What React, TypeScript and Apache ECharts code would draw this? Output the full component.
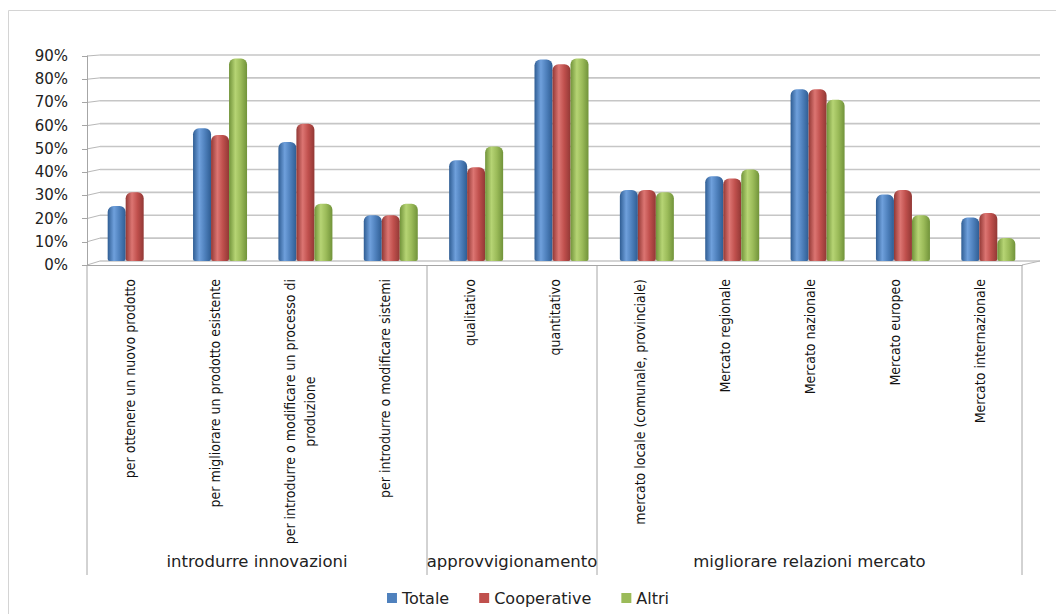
import React, { useEffect, useRef } from 'react';
import * as echarts from 'echarts';

const categories = [
  'per ottenere un nuovo prodotto',
  'per migliorare un prodotto esistente',
  'per introdurre o modificare un processo di\nproduzione',
  'per introdurre o modificare sistemi',
  'qualitativo',
  'quantitativo',
  'mercato locale (comunale, provinciale)',
  'Mercato regionale',
  'Mercato nazionale',
  'Mercato europeo',
  'Mercato internazionale',
];
const groupNames = ['introdurre innovazioni', 'approvvigionamento', 'migliorare relazioni mercato'];
const groupSizes = [4, 2, 5];
const seriesNames = ['Totale', 'Cooperative', 'Altri'];
const totale = [24, 58, 52, 20, 44, 88, 31, 37, 75, 29, 19];
const cooperative = [30, 55, 60, 20, 41, 86, 31, 36, 75, 31, 21];
const altri = [0, 88.5, 25, 25, 50, 88.5, 30, 40, 70.5, 20, 10];
const yTicks = [0, 10, 20, 30, 40, 50, 60, 70, 80, 90];

const baseColors = ['#4F81BD', '#C0504D', '#9BBB59'];
const darkColors = ['#2f5d93', '#923835', '#71933a'];
const lightColors = ['#6fa0dc', '#dc7572', '#b6d474'];

const LABEL_FONT = "'Liberation Sans Narrow', 'DejaVu Sans Condensed', 'Arial Narrow', sans-serif";
const MAIN_FONT = "'DejaVu Sans', Verdana, sans-serif";

function measure(text: string, font: string): number {
  const c = document.createElement('canvas').getContext('2d');
  if (!c) return text.length * 6;
  c.font = font;
  return c.measureText(text).width;
}

export default function App() {
  const ref = useRef<HTMLDivElement>(null);
  useEffect(() => {
    if (!ref.current) return;
    const chart = echarts.init(ref.current, null, { renderer: 'svg' });
    const labelSize = 14;
    const grad = (i: number) =>
      new echarts.graphic.LinearGradient(0, 0, 1, 0, [
        { offset: 0, color: darkColors[i] },
        { offset: 0.35, color: lightColors[i] },
        { offset: 0.65, color: baseColors[i] },
        { offset: 1, color: darkColors[i] },
      ]);
    const data = [totale, cooperative, altri];
    const option: any = {
      animation: false,
      backgroundColor: '#ffffff',
      grid: [
        { left: 92, right: 25, top: 55, bottom: 353, outerBoundsMode: 'none', containLabel: false },
        { left: 87, right: 34, top: 56, bottom: 349, outerBoundsMode: 'none', containLabel: false },
      ],
      legend: {
        top: 585,
        left: 'center',
        icon: 'rect',
        itemWidth: 10,
        itemHeight: 10,
        itemGap: 30,
        textStyle: { fontFamily: MAIN_FONT, fontSize: 16, color: '#222' },
        data: seriesNames.map((n, i) => ({ name: n, itemStyle: { color: baseColors[i] } })),
      },
      xAxis: [
        { type: 'category', gridIndex: 0, data: categories, show: false },
        {
          type: 'category',
          gridIndex: 1,
          data: categories,
          axisLine: { show: true, lineStyle: { color: '#a6a6a6', width: 1 } },
          axisTick: { show: false },
          axisLabel: {
            rotate: 90,
            margin: 14,
            interval: 0,
            fontFamily: LABEL_FONT,
            fontSize: labelSize,
            color: '#111',
            formatter: (v: string) => {
              if (v.indexOf('\n') < 0) return v;
              const [l1, l2] = v.split('\n');
              return `{a|${l1}}\n{b|${l2}}`;
            },
            rich: (() => {
              const w = measure(categories[2].split('\n')[0], `${labelSize}px ${LABEL_FONT}`);
              return {
                a: { fontFamily: LABEL_FONT, fontSize: labelSize, color: '#111', lineHeight: 20 },
                b: { fontFamily: LABEL_FONT, fontSize: labelSize, color: '#111', width: w, align: 'center', lineHeight: 20 },
              };
            })(),
          },
        },
      ],
      yAxis: [
        { type: 'value', gridIndex: 0, min: 0, max: 90, interval: 10, show: false },
        {
          type: 'value',
          gridIndex: 1,
          min: 0,
          max: 90,
          interval: 10,
          axisLine: { show: true, lineStyle: { color: '#a6a6a6', width: 1 } },
          axisTick: { show: true, length: 5, lineStyle: { color: '#a6a6a6' } },
          splitLine: { show: false },
          axisLabel: {
            margin: 19,
            formatter: '{value}%',
            fontFamily: MAIN_FONT,
            fontSize: 15,
            color: '#222',
          },
        },
      ],
      series: seriesNames.map((n, i) => ({
        name: n,
        type: 'bar',
        xAxisIndex: 0,
        yAxisIndex: 0,
        barWidth: 18,
        barGap: '0%',
        z: 5,
        data: data[i],
        itemStyle: { color: grad(i), borderRadius: [6, 6, 2, 2] },
      })),
    };
    chart.setOption(option);

    // decorations (3D walls, gridlines, group separators)
    const g: any[] = [];
    g.push({
      type: 'rect',
      silent: true,
      z: -10,
      shape: { x: 8.5, y: 10.5, width: 1200, height: 800 },
      style: { fill: 'none', stroke: '#d4d4d4', lineWidth: 1 },
    });
    const x0 = chart.convertToPixel({ xAxisIndex: 1 }, 0) as number;
    const x1 = chart.convertToPixel({ xAxisIndex: 1 }, 1) as number;
    const band = x1 - x0;
    const frontLeft = x0 - band / 2;
    const frontRight = frontLeft + band * categories.length;
    const backLeft = 100;
    const backRight = 1040;
    yTicks.forEach((v) => {
      const yb = chart.convertToPixel({ yAxisIndex: 0 }, v) as number;
      const yf = chart.convertToPixel({ yAxisIndex: 1 }, v) as number;
      g.push({ type: 'line', z: 0, silent: true, shape: { x1: backLeft, y1: yb, x2: backRight, y2: yb }, style: { stroke: '#c6c6c6', lineWidth: 1.6 } });
      g.push({ type: 'line', z: 0, silent: true, shape: { x1: frontLeft, y1: yf, x2: backLeft, y2: yb }, style: { stroke: '#b8b8b8', lineWidth: 1 } });
    });
    const yb0 = chart.convertToPixel({ yAxisIndex: 0 }, 0) as number;
    const yf0 = chart.convertToPixel({ yAxisIndex: 1 }, 0) as number;
    g.push({ type: 'line', z: 0, silent: true, shape: { x1: frontRight, y1: yf0, x2: backRight, y2: yb0 }, style: { stroke: '#b8b8b8', lineWidth: 1 } });

    let idx = 0;
    const bounds: number[] = [frontLeft];
    groupSizes.forEach((s) => {
      idx += s;
      bounds.push(frontLeft + band * idx);
    });
    bounds.forEach((bx) => {
      g.push({ type: 'line', z: 0, silent: true, shape: { x1: bx, y1: yf0, x2: bx, y2: 575 }, style: { stroke: '#a6a6a6', lineWidth: 1 } });
    });
    groupNames.forEach((name, i) => {
      g.push({
        type: 'text',
        z: 6,
        silent: true,
        x: (bounds[i] + bounds[i + 1]) / 2,
        y: 561,
        style: {
          text: name,
          fontFamily: MAIN_FONT,
          fontSize: 16.5,
          fill: '#222',
          textAlign: 'center',
          textVerticalAlign: 'middle',
        },
      });
    });
    chart.setOption({ graphic: g });

    return () => chart.dispose();
  }, []);
  return (
    <div
      ref={ref}
      style={{ position: 'fixed', left: 0, top: 0, width: 1056, height: 614, background: '#fff' }}
    />
  );
}
